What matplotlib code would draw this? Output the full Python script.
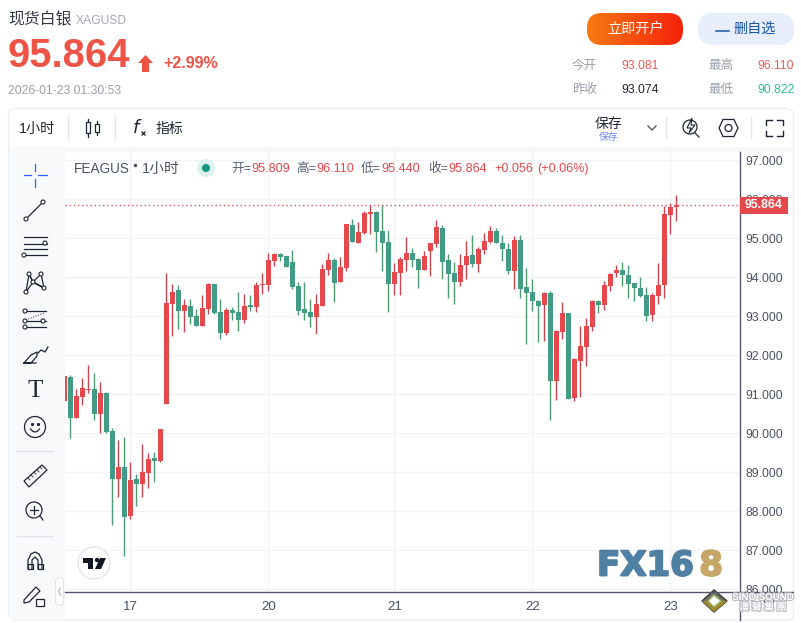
import numpy as np
import matplotlib
matplotlib.use('Agg')
from matplotlib import pyplot as plt
from matplotlib import patheffects as pe
from matplotlib.patches import Circle, FancyBboxPatch, Polygon, Rectangle

plt.rcParams['font.family'] = ['Liberation Sans', 'Noto Sans CJK SC', 'DejaVu Sans']

opens = [90.83, 91.44, 90.39, 90.93, 91.11, 91.14, 90.49, 91.03, 90.06, 88.83,
         89.14, 87.88, 88.83, 88.70, 88.98, 89.37, 89.29, 90.75, 93.32, 93.67,
         93.14, 93.26, 93.01, 92.75, 93.19, 93.83, 93.11, 92.57, 93.16, 93.11,
         92.90, 93.29, 93.24, 93.80, 93.80, 94.42, 94.60, 94.55, 94.39, 93.78,
         93.19, 93.11, 92.98, 93.26, 94.19, 94.44, 93.88, 94.24, 95.34, 94.88,
         95.14, 95.62, 95.67, 95.19, 94.90, 93.83, 94.11, 94.44, 94.62, 94.47,
         94.19, 94.67, 94.85, 95.26, 94.44, 94.11, 93.88, 94.31, 94.57, 94.34,
         94.70, 94.90, 95.19, 94.88, 94.73, 94.16, 94.96, 93.75, 93.62, 93.39,
         93.29, 93.60, 91.34, 92.60, 93.08, 90.90, 91.85, 92.21, 92.73, 93.39,
         93.29, 93.78, 94.11, 94.19, 94.06, 93.85, 93.73, 93.55, 93.03, 93.52,
         93.80, 95.60, 95.809]
highs = [91.47, 91.49, 91.14, 91.42, 91.75, 91.55, 91.32, 91.06, 90.14, 89.83,
         89.91, 89.26, 88.96, 89.73, 89.49, 89.52, 90.11, 94.11, 93.83, 93.80,
         93.44, 93.44, 93.19, 93.55, 93.85, 93.83, 93.44, 93.21, 93.24, 93.62,
         93.57, 93.55, 93.88, 94.11, 94.62, 94.62, 94.62, 94.55, 94.70, 93.88,
         93.88, 93.44, 93.57, 94.34, 94.62, 94.49, 94.52, 95.37, 95.49, 95.42,
         95.70, 95.85, 95.70, 95.85, 95.21, 94.37, 94.52, 95.03, 94.75, 94.49,
         94.67, 94.88, 95.47, 95.34, 94.60, 94.39, 94.60, 94.93, 95.08, 94.78,
         95.14, 95.31, 95.26, 95.08, 94.88, 95.06, 95.08, 94.24, 93.96, 93.42,
         93.62, 93.65, 92.65, 93.37, 93.08, 91.93, 92.75, 92.96, 93.42, 93.42,
         93.90, 94.11, 94.31, 94.39, 94.31, 93.85, 94.01, 93.75, 93.60, 94.37,
         95.83, 95.90, 96.11]
lows = [90.83, 89.88, 90.39, 90.73, 91.03, 90.34, 90.01, 90.01, 87.65, 88.37,
        86.85, 87.80, 88.14, 88.37, 88.60, 88.75, 89.26, 90.75, 92.50, 92.67,
        92.60, 92.80, 92.75, 92.75, 93.06, 93.06, 92.42, 92.52, 92.91, 92.62,
        92.83, 93.14, 93.11, 93.57, 93.65, 94.29, 94.42, 94.26, 93.70, 93.03,
        92.90, 92.73, 92.55, 93.26, 94.06, 93.37, 93.88, 94.16, 94.90, 94.88,
        95.11, 95.11, 94.65, 94.16, 93.11, 93.55, 93.55, 94.16, 94.26, 93.73,
        94.19, 94.03, 94.78, 93.96, 93.47, 93.31, 93.78, 93.96, 94.26, 94.14,
        94.60, 94.88, 94.88, 94.42, 94.08, 93.70, 93.47, 92.29, 93.14, 92.34,
        92.37, 90.34, 90.85, 92.42, 90.88, 90.83, 90.93, 91.73, 92.62, 93.08,
        93.16, 93.65, 94.01, 93.78, 93.47, 93.39, 93.50, 92.88, 92.88, 93.31,
        93.47, 95.11, 95.44]
closes = [91.47, 90.39, 90.96, 91.16, 91.14, 90.49, 91.03, 90.03, 88.83, 89.14,
          87.85, 88.80, 88.70, 89.01, 89.34, 89.29, 90.11, 93.34, 93.62, 93.14,
          93.29, 92.98, 92.75, 93.21, 93.83, 93.09, 92.57, 93.16, 93.09, 92.91,
          93.26, 93.24, 93.80, 93.83, 94.44, 94.60, 94.52, 94.26, 93.75, 93.14,
          93.08, 92.98, 93.31, 94.21, 94.44, 93.85, 94.26, 95.37, 94.90, 95.16,
          95.65, 95.67, 95.16, 94.88, 93.83, 94.14, 94.47, 94.62, 94.44, 94.19,
          94.55, 94.88, 95.29, 94.39, 94.08, 93.88, 94.31, 94.55, 94.34, 94.73,
          94.93, 95.19, 94.88, 94.73, 94.16, 94.96, 93.70, 93.60, 93.39, 93.26,
          93.60, 91.34, 92.62, 93.08, 90.88, 91.90, 92.24, 92.75, 93.39, 93.29,
          93.80, 94.08, 94.19, 94.06, 93.83, 93.73, 93.52, 93.01, 93.55, 93.80,
          95.62, 95.80, 95.864]

price_ticks = [86, 87, 88, 89, 90, 91, 92, 93, 94, 95, 96, 97]
day_pos = [11, 34, 55, 78, 101]
day_labels = ['17', '20', '21', '22', '23']
last_price = 95.864

RED = '#E5484D'
GREEN = '#429B84'
GRID = '#F2F3F5'
INK = '#1D2433'
MUTED = '#9A9FAB'
AXIS = '#50566E'

W, H = 801, 623
fig = plt.figure(figsize=(W / 100, H / 100), dpi=100, facecolor='white')

# page layer in pixel coordinates
ui = fig.add_axes([0, 0, 1, 1], zorder=0)
ui.set_xlim(0, W)
ui.set_ylim(H, 0)
ui.axis('off')

ui.add_patch(FancyBboxPatch((8.5, 108.5), 785, 511.5, boxstyle='round,pad=0,rounding_size=7',
                            fc='white', ec='#ECEEF2', lw=1))
ui.add_patch(Rectangle((9, 147), 784, 5, fc='#F6F7F9', ec='none'))
ui.add_patch(Rectangle((9, 147), 56, 472.5, fc='#F8F9FB', ec='none'))

# price chart
px_left, px_right, px_top, px_bottom = 65, 739.5, 150, 592.3
ax = fig.add_axes([px_left / W, 1 - px_bottom / H, (px_right - px_left) / W, (px_bottom - px_top) / H], zorder=1)
ax.set_xlim((px_left - 64.33) / 6, (px_right - 64.33) / 6)
ax.set_ylim(95 - (px_bottom - 238.3) / 39, 95 + (238.3 - px_top) / 39)
ax.set_facecolor('none')

o = np.array(opens)
c = np.array(closes)
up = c >= o
idx = np.arange(len(o))
ax.vlines(idx, lows, highs, colors=np.where(up, '#C4464F', '#4C9A72'), lw=1, zorder=3)
ax.bar(idx, np.maximum(np.abs(c - o), 0.03), bottom=np.minimum(o, c), width=5 / 6,
       color=np.where(up, RED, GREEN), lw=0, zorder=4)
ax.axhline(last_price, color='#D9555C', lw=1, ls=(0, (1, 2)), zorder=5)

ax.set_yticks(price_ticks)
ax.set_yticklabels(['%.3f' % p for p in price_ticks], fontsize=8.8, color='#4A5266', clip_on=False)
ax.set_xticks(day_pos)
ax.set_xticklabels(day_labels, fontsize=9.6, color='#4A5266')
ax.yaxis.tick_right()
ax.tick_params(axis='both', length=0, pad=4)
ax.tick_params(axis='x', pad=6)
ax.grid(color=GRID, lw=1)
ax.set_axisbelow(True)
for side in ['top', 'left', 'right', 'bottom']:
    ax.spines[side].set_visible(False)

# overlay layer for header, tools and logos
top = fig.add_axes([0, 0, 1, 1], zorder=2)
top.set_xlim(0, W)
top.set_ylim(H, 0)
top.axis('off')
top.patch.set_alpha(0)


def label(x, y, s, size, color, ha='left', weight='normal'):
    return top.text(x, y, s, fontsize=size, color=color, ha=ha, va='center', fontweight=weight)


# axis lines run past the plot into the time and price scales
top.plot([65, 793], [592.3, 592.3], color=AXIS, lw=1)
top.plot([739.5, 739.5], [152, 620], color=AXIS, lw=1)
top.add_patch(Rectangle((739.5, 197), 48.5, 17, fc=RED, ec='none', zorder=3))
top.text(763.5, 205.5, '%.3f' % last_price, fontsize=8.8, fontweight='bold', color='white',
         ha='center', va='center', zorder=4)

label(8, 20, '现货白银', 11.4, '#333845')
label(76, 21, 'XAGUSD', 8.7, '#A3A8B3')
label(8, 56, '95.864', 28.8, '#EE5345', weight='bold')
top.add_patch(Polygon([(145.5, 55), (153, 63), (149, 63), (149, 72), (142, 72), (142, 63), (138, 63)],
                      fc='#EE5345', ec='none'))
label(163, 64, '+2.99%', 11.6, '#EE5345', weight='bold')
label(8, 91, '2026-01-23 01:30:53', 8.7, MUTED)

# buttons
grad = np.linspace(0, 1, 96).reshape(1, -1)
cmap = matplotlib.colors.LinearSegmentedColormap.from_list('btn', ['#F57A12', '#F5220A'])
im = top.imshow(grad, extent=(587, 683, 45, 13), cmap=cmap, aspect='auto', zorder=1)
im.set_clip_path(FancyBboxPatch((587, 13), 96, 32, boxstyle='round,pad=0,rounding_size=15', transform=top.transData))
top.set_xlim(0, W)
top.set_ylim(H, 0)
label(635, 29, '立即开户', 10.2, 'white', ha='center')
top.add_patch(FancyBboxPatch((698, 13), 96, 32, boxstyle='round,pad=0,rounding_size=15', fc='#E8EEFC', ec='none'))
top.plot([716, 729], [31, 31], color='#1A56A8', lw=1.1)
label(733, 29, '删自选', 10.2, '#1A56A8')

# quote table
label(572, 66, '今开', 9, MUTED)
label(572, 90, '昨收', 9, MUTED)
label(708, 66, '最高', 9, MUTED)
label(708, 90, '最低', 9, MUTED)
label(621, 66, '93.081', 8.8, '#EE5A55')
label(621, 90, '93.074', 8.8, INK)
label(757, 66, '96.110', 8.8, '#EE5A55')
label(757, 90, '90.822', 8.8, '#2DBE9A')

# toolbar row
label(19, 129, '1小时', 10.2, INK)
for x, y0, y1 in [(68, 117, 138), (115, 117, 138), (666, 117, 138), (751, 117, 138)]:
    top.plot([x, x], [y0, y1], color='#E3E5EC', lw=1)
top.plot([88, 88], [119, 137], color=INK, lw=0.9)
top.plot([97, 97], [121, 135], color=INK, lw=0.9)
top.add_patch(Rectangle((86, 122), 4, 11, fc='white', ec=INK, lw=0.9, zorder=3))
top.add_patch(Rectangle((95, 124), 4, 8, fc='white', ec=INK, lw=0.9, zorder=3))
top.text(137, 128, '$f$', fontsize=13, color=INK, ha='center', va='center')
top.plot([143], [133], marker='x', ms=3.5, mew=0.9, color=INK)
label(156, 129, '指标', 10, INK)
label(609, 124, '保存', 10, INK, ha='center')
label(609, 137, '保存', 7, '#6A86F5', ha='center')
top.plot([648, 652, 656], [126, 130, 126], color='#444A58', lw=0.9)
top.add_patch(Circle((690, 127), 7, fc='none', ec=INK, lw=0.9))
top.plot([695, 699], [133, 137], color=INK, lw=0.9)
top.add_patch(Polygon([(692, 118), (687, 128), (691, 128), (689, 133), (695, 125), (691, 125)], fc='white', ec=INK, lw=0.8))
top.add_patch(Polygon([(719, 128), (723, 119.5), (734, 119.5), (738, 128), (734, 136.5), (723, 136.5)], fc='none', ec=INK, lw=0.9))
top.add_patch(Circle((728.5, 128), 3.5, fc='none', ec=INK, lw=0.9))
for xs, ys in [([766, 766, 772], [125, 120, 120]), ([777, 783, 783], [120, 120, 125]),
               ([766, 766, 772], [131, 136, 136]), ([777, 783, 783], [136, 136, 131])]:
    top.plot(xs, ys, color=INK, lw=1)

# legend row above the candles
label(74, 169, 'FEAGUS', 9.8, '#4A5266')
top.plot([135], [165], marker='o', ms=1.5, color='#4A5266')
label(142, 169, '1小时', 10.6, '#4A5266')
top.add_patch(Circle((206, 168), 9, fc='#DDF1EC', ec='none'))
top.add_patch(Circle((206, 168), 4, fc='#0D9A7F', ec='none'))
legend_x = [231, 251, 296, 316, 361, 381, 428, 448, 494, 537]
legend_s = ['开=', '95.809', '高=', '96.110', '低=', '95.440', '收=', '95.864', '+0.056', '(+0.06%)']
legend_c = ['#5A6175', RED, '#5A6175', RED, '#5A6175', RED, '#5A6175', RED, RED, RED]
for x, s, col in zip(legend_x, legend_s, legend_c):
    label(x, 169, s, 9.1, col)

# drawing tools on the left
cx = 35
T = dict(color=INK, lw=0.9)


def node(x, y):
    top.add_patch(Circle((x, y), 2, fc='white', ec=INK, lw=0.8, zorder=4))


for xs, ys in [([24, 31], [175, 175]), ([38, 47], [175, 175]), ([35, 35], [164, 171]), ([35, 35], [179, 187])]:
    top.plot(xs, ys, color='#2962FF', lw=0.9)
top.plot([26, 43], [219, 202], **T)
node(26, 219)
node(43, 202)
for y in [237, 244, 255]:
    top.plot([24, 47], [y, y], **T)
top.plot([24, 47], [249, 249], **T)
node(45, 243)
node(24, 255)
top.plot([26, 29, 33, 41, 44], [292, 274, 282, 274, 288], **T)
top.plot([29, 33, 44, 33, 26], [274, 282, 288, 282, 292], **T)
for x, y in [(26, 292), (29, 274), (33, 282), (41, 274), (44, 288)]:
    node(x, y)
top.plot([26, 46], [311, 311], **T)
top.plot([26, 46], [321, 321], **T)
top.plot([26, 46], [327, 327], **T)
top.plot([26, 44], [320, 313], color=INK, lw=0.7, ls=':')
for x, y in [(25, 311), (25, 321), (25, 327), (43, 321)]:
    node(x, y)
top.plot([24, 31, 37, 37, 32, 30, 24, 36], [363, 355, 352, 356, 362, 363, 363, 363], **T)
top.plot([38, 41, 45, 48], [353, 350, 352, 347], **T)
top.text(cx, 391, 'T', fontsize=18, family='Liberation Serif', color=INK, ha='center', va='center')
top.add_patch(Circle((35, 427), 10.5, fc='none', ec=INK, lw=0.9))
top.plot([32, 38], [424, 424], ls='none', marker='o', ms=1.3, color=INK)
top.plot([30.5, 33, 35, 37, 39.5], [429, 431.5, 432, 431.5, 429], **T)
top.plot([17, 53], [451, 451], color='#DFE1E8', lw=1)
top.add_patch(Polygon([(24, 481), (42, 465), (47, 470), (29, 487)], fc='none', ec=INK, lw=0.9))
for x, y in [(28, 478), (31, 475), (34, 472), (37, 470), (40, 467)]:
    top.plot([x, x + 2], [y, y + 2], color=INK, lw=0.6)
top.add_patch(Circle((34, 510), 8, fc='none', ec=INK, lw=0.9))
top.plot([40, 43], [516, 520], **T)
top.plot([30, 38], [510, 510], **T)
top.plot([34, 34], [506, 514], **T)
top.plot([17, 53], [536, 536], color='#DFE1E8', lw=1)
top.plot([28, 28, 31, 35, 39, 42, 42], [569, 560, 554, 552, 554, 560, 569], **T)
top.plot([32, 32, 35, 38, 38], [569, 560, 557, 560, 569], **T)
top.add_patch(Rectangle((27.5, 564), 5, 5, fc='none', ec=INK, lw=0.9))
top.add_patch(Rectangle((38, 564), 5, 5, fc='none', ec=INK, lw=0.9))
top.add_patch(Polygon([(24, 600), (36, 587), (40, 591), (29, 602), (24, 603)], fc='none', ec=INK, lw=0.9))
top.add_patch(Rectangle((36, 599), 8, 7, fc='white', ec=INK, lw=0.9))
top.add_patch(FancyBboxPatch((55.5, 578), 8, 27, boxstyle='round,pad=0,rounding_size=3', fc='white', ec='#E0E3EB', lw=0.8))
top.plot([60.5, 58.5, 60.5], [588, 591.5, 595], color='#B8BCC8', lw=0.9)

# tradingview badge
top.add_patch(Circle((94, 563), 16, fc='white', ec='#E3E5EE', lw=1))
top.add_patch(Polygon([(83, 558), (93, 558), (93, 569), (88, 569), (88, 563), (83, 563)], fc='#131722', ec='none'))
top.add_patch(Circle((97, 560), 2.2, fc='#131722', ec='none'))
top.add_patch(Polygon([(100, 558), (106, 558), (101, 569), (95, 569)], fc='#131722', ec='none'))

# watermarks
logo_a = top.text(597, 566, 'FX16', fontsize=24.5, fontweight='bold', family='DejaVu Sans', color='#4F7FA3', ha='left', va='center')
logo_a.set_path_effects([pe.withStroke(linewidth=1.4, foreground='#4F7FA3')])
logo_b = top.text(723, 566, '8', fontsize=24.5, fontweight='bold', family='DejaVu Sans', color='#C6A768', ha='right', va='center')
logo_b.set_path_effects([pe.withStroke(linewidth=1.4, foreground='#C6A768')])
top.add_patch(Polygon([(714, 590), (727, 601), (714, 612), (702, 601)], fc='#6E6E62', ec='#3A3A3A', lw=1))
top.add_patch(Polygon([(702, 601), (727, 601), (714, 612)], fc='#A08A2C', ec='none'))
top.add_patch(Polygon([(714, 595), (721, 601), (714, 607), (708, 601)], fc='#FFFFFF', ec='#9BB56A', lw=1))
top.add_patch(Polygon([(767, 596), (772, 596), (774, 601), (772, 606), (767, 606), (764, 601)], fc='none', ec='#333333', lw=0.8))
for y, s in [(597, 'SINO SOUND'), (607, '澳 聲 集 團')]:
    t = label(763, y, s, 7, 'white', ha='center', weight='bold')
    t.set_path_effects([pe.withStroke(linewidth=1.6, foreground='#B9BBC0')])

fig.savefig('out.png', dpi=100)
